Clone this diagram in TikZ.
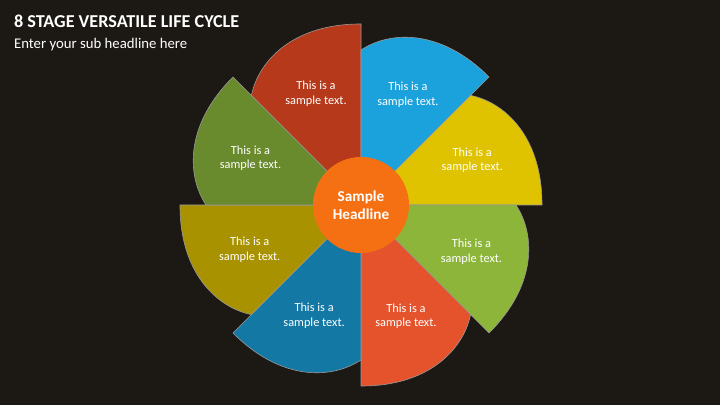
\documentclass[tikz,border=0pt]{standalone}
\usepackage{fontspec}
\setmainfont{Carlito}
\usepackage{tikz}
\usetikzlibrary{calc,positioning}

\definecolor{bgdark}{HTML}{1C1813}
\definecolor{cRed}{HTML}{B5391A}
\definecolor{cBlue}{HTML}{1BA1DB}
\definecolor{cYellow}{HTML}{DFC300}
\definecolor{cLime}{HTML}{8DB53A}
\definecolor{cTomato}{HTML}{E5532D}
\definecolor{cNavy}{HTML}{1478A5}
\definecolor{cOlive}{HTML}{A89200}
\definecolor{cGreen}{HTML}{6A8A2E}
\definecolor{cOrange}{HTML}{F57013}

\begin{document}
\begin{tikzpicture}[x=0.03cm,y=0.03cm]

  % Parameters
  \def\rlong{181}
  \def\rshort{155}

  % Styles
  \tikzstyle{petal}=[draw=black!40,line width=0.5pt]
  \tikzstyle{label}=[text=white,align=center,font=\fontsize{10.5}{12.5}\selectfont]
  \tikzstyle{hub}=[circle,fill=cOrange,minimum size=96*0.03cm,text=white,align=center,font=\bfseries\fontsize{13}{15}\selectfont,inner sep=0pt]

  % Background
  \fill[bgdark] (0,0) rectangle (720,-405);
  \useasboundingbox (0,0) rectangle (720,-405);

  % Titles
  \node[anchor=west,text=white,font=\bfseries\fontsize{15.5}{18}\selectfont] (title) at (10,-21) {8 STAGE VERSATILE LIFE CYCLE};
  \node[anchor=west,text=white,font=\fontsize{12.6}{15}\selectfont] (subtitle) at (10,-45) {Enter your sub headline here};

  \coordinate (c) at (361,-205);

  % Petals
  \begin{scope}[shift={(c)}]
    \foreach \a/\col [count=\i] in {90/cRed,45/cBlue,0/cYellow,-45/cLime,-90/cTomato,-135/cNavy,180/cOlive,135/cGreen}{
      \filldraw[petal,fill=\col] (0,0) -- (\a:\rlong)
        .. controls (\a+20:193) and (\a+35:178) .. (\a+45:\rshort) -- cycle;
      \node[label] (txt-\i) at (\a+22:120) {This is a\\sample text.};
    }
  \end{scope}

  % Hub
  \node[hub] (hub) at (c) {Sample\\Headline};

\end{tikzpicture}
\end{document}
